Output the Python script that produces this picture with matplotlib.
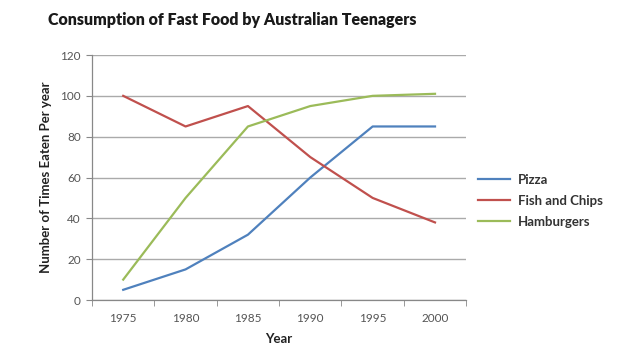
import matplotlib
matplotlib.use("Agg")
import matplotlib.pyplot as plt
from matplotlib.ticker import FixedLocator

years = ["1975", "1980", "1985", "1990", "1995", "2000"]
pizza = [5, 15, 32, 60, 85, 85]
fish_chips = [100, 85, 95, 70, 50, 38]
hamburgers = [10, 50, 85, 95, 100, 101]
yticks = [0, 20, 40, 60, 80, 100, 120]

plt.rcParams['font.family'] = ['Lato', 'DejaVu Sans']

fig = plt.figure(figsize=(6.36, 3.54), dpi=100)
ax = fig.add_axes([0.1447, 0.1525, 0.733 - 0.1447, 0.8446 - 0.1525])

x = list(range(len(years)))
ax.plot(x, pizza, color="#4F81BD", lw=1.6, label="Pizza")
ax.plot(x, fish_chips, color="#C0504D", lw=1.6, label="Fish and Chips")
ax.plot(x, hamburgers, color="#9BBB59", lw=1.6, label="Hamburgers")

ax.set_xlim(-0.5, len(years) - 0.5)
ax.set_ylim(0, 120)
ax.set_yticks(yticks)
ax.set_xticks(x)
ax.set_xticklabels(years)
ax.xaxis.set_minor_locator(FixedLocator([i - 0.5 for i in range(len(years) + 1)]))
ax.tick_params(axis='x', which='major', length=0, pad=9, labelsize=8.5, labelcolor="#555555")
ax.tick_params(axis='x', which='minor', length=4, color="#888888", direction='out')
ax.tick_params(axis='y', length=4, color="#888888", labelsize=8.5, labelcolor="#555555", pad=4)

ax.grid(axis='y', color="#AAAAAA", lw=1.0)
ax.set_axisbelow(True)
for s in ['top', 'right']:
    ax.spines[s].set_visible(False)
for s in ['left', 'bottom']:
    ax.spines[s].set_color("#888888")
    ax.spines[s].set_linewidth(0.9)

ax.set_xlabel("Year", fontsize=9.5, fontweight='bold', color="#222222", labelpad=7)
ax.set_ylabel("Number of Times Eaten Per year", fontsize=9.5, fontweight='bold', color="#222222", labelpad=6)

fig.text(0.365, 0.943, "Consumption of Fast Food by Australian Teenagers",
         ha='center', va='center', fontsize=11.5, fontweight='heavy', color="#1a1a1a")

leg = ax.legend(loc='center left', bbox_to_anchor=(1.0, 0.405), frameon=False,
                fontsize=9.5, handlelength=2.4, labelspacing=0.7, handletextpad=0.6)
for t in leg.get_texts():
    t.set_color("#333333")
    t.set_fontweight('bold')

fig.savefig("out.png", dpi=100)
